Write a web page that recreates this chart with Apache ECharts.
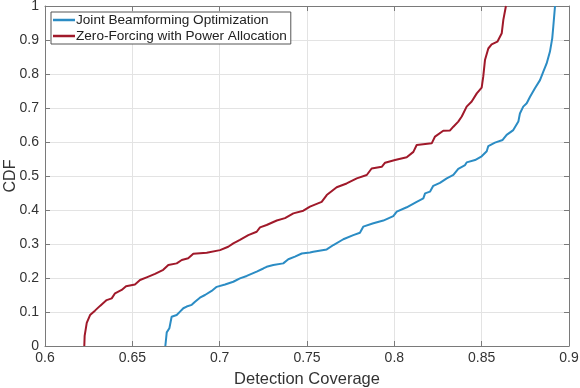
<!DOCTYPE html>
<html><head><meta charset="utf-8">
<script src="https://cdn.jsdelivr.net/npm/echarts@6/dist/echarts.min.js"></script>
<style>html,body{margin:0;padding:0;background:#fff}#c{width:580px;height:388px}</style>
</head><body><div id="c"></div>
<script>
var seriesNames = ['Joint Beamforming Optimization', 'Zero-Forcing with Power Allocation'];
var xTicks = ['0.6','0.65','0.7','0.75','0.8','0.85','0.9'];
var yTicks = ['0','0.1','0.2','0.3','0.4','0.5','0.6','0.7','0.8','0.9','1'];

var jointX = [0.6689,0.6697,0.6712,0.6725,0.6754,0.6773,0.6792,0.6811,0.6840,0.6859,0.6887,0.6916,0.6954,0.6983,0.7031,0.7078,0.7116,0.7155,0.7212,0.7250,0.7269,0.7307,0.7364,0.7393,0.7431,0.7470,0.7517,0.7536,0.7613,0.7651,0.7708,0.7765,0.7803,0.7822,0.7880,0.7937,0.7994,0.8014,0.8071,0.8128,0.8166,0.8176,0.8204,0.8223,0.8261,0.8300,0.8338,0.8366,0.8405,0.8414,0.8462,0.8500,0.8529,0.8538,0.8576,0.8620,0.8643,0.8681,0.8710,0.8719,0.8738,0.8758,0.8777,0.8805,0.8834,0.8853,0.8872,0.8891,0.8904,0.8910,0.8920];
var jointY = [0,0.040,0.052,0.086,0.091,0.101,0.111,0.116,0.121,0.130,0.142,0.150,0.162,0.174,0.181,0.189,0.199,0.206,0.219,0.228,0.233,0.238,0.243,0.255,0.263,0.272,0.275,0.277,0.284,0.297,0.314,0.326,0.333,0.351,0.361,0.369,0.382,0.395,0.408,0.424,0.434,0.449,0.454,0.471,0.480,0.493,0.503,0.521,0.532,0.540,0.547,0.558,0.573,0.588,0.598,0.606,0.621,0.635,0.660,0.684,0.704,0.714,0.733,0.758,0.782,0.807,0.831,0.866,0.905,0.939,1.0];

var zfX = [0.6225,0.6227,0.6239,0.6258,0.6286,0.6315,0.6353,0.6382,0.6401,0.6439,0.6464,0.6515,0.6544,0.6582,0.6630,0.6677,0.6706,0.6754,0.6783,0.6820,0.6849,0.6926,0.7002,0.7049,0.7078,0.7116,0.7164,0.7212,0.7231,0.7269,0.7327,0.7374,0.7422,0.7479,0.7517,0.7584,0.7613,0.7670,0.7727,0.7785,0.7842,0.7870,0.7928,0.7947,0.8004,0.8071,0.8109,0.8128,0.8214,0.8233,0.8280,0.8319,0.8338,0.8366,0.8386,0.8414,0.8443,0.8472,0.8500,0.8509,0.8519,0.8538,0.8557,0.8590,0.8615,0.8624,0.8639];
var zfY = [0,0.030,0.068,0.091,0.104,0.118,0.135,0.140,0.155,0.165,0.176,0.181,0.194,0.202,0.212,0.224,0.238,0.243,0.253,0.258,0.271,0.274,0.282,0.292,0.302,0.312,0.326,0.336,0.349,0.356,0.369,0.376,0.390,0.398,0.410,0.424,0.444,0.467,0.478,0.493,0.503,0.522,0.527,0.539,0.547,0.555,0.571,0.591,0.596,0.616,0.633,0.634,0.645,0.660,0.675,0.704,0.719,0.743,0.760,0.792,0.841,0.875,0.887,0.895,0.920,0.959,1.0];

function pairs(xs, ys){ return xs.map(function(x,i){return [x, ys[i]];}); }

var FONT = '"Liberation Sans", Arial, sans-serif';
var axisGray = '#7a7a7a';
var txt = '#333333';

var chart = echarts.init(document.getElementById('c'), null, {renderer:'canvas'});
chart.setOption({
  animation: false,
  backgroundColor: '#fff',
  grid: {left: 45, right: 11, top: 6, bottom: 42, containLabel: false, outerBoundsMode: 'none'},
  legend: {
    orient: 'vertical', left: 51, top: 12,
    data: seriesNames,
    icon: 'rect', itemWidth: 22, itemHeight: 2.5, itemGap: 2,
    backgroundColor: '#fff', borderColor: '#555', borderWidth: 1,
    padding: [1, 4, 1, 2],
    textStyle: {fontFamily: FONT, fontSize: 13.6, color: '#222', padding: [0,0,0,-4]}
  },
  xAxis: [{
    type: 'value', min: 0.6, max: 0.9, interval: 0.05,
    name: 'Detection Coverage', nameLocation: 'middle', nameGap: 25, nameMoveOverlap: false,
    nameTextStyle: {fontFamily: FONT, fontSize: 16.5, color: txt},
    axisLine: {show: true, onZero: false, lineStyle: {color: axisGray, width: 1}},
    axisTick: {show: true, inside: true, length: 5, lineStyle: {color: axisGray}},
    axisLabel: {fontFamily: FONT, fontSize: 14, color: txt, margin: 5,
      formatter: function(v){ var i = Math.round((v-0.6)/0.05); return xTicks[i] || ''; }},
    splitLine: {show: true, lineStyle: {color: '#e3e3e3', width: 1}}
  },{
    type: 'value', position: 'top', min: 0.6, max: 0.9, interval: 0.05,
    axisLine: {show: true, onZero: false, lineStyle: {color: axisGray, width: 1}},
    axisTick: {show: true, inside: true, length: 5, lineStyle: {color: axisGray}},
    axisLabel: {show: false}, splitLine: {show: false}
  }],
  yAxis: [{
    type: 'value', min: 0, max: 1, interval: 0.1,
    name: 'CDF', nameLocation: 'middle', nameGap: 26, nameMoveOverlap: false,
    nameTextStyle: {fontFamily: FONT, fontSize: 16, color: txt},
    axisLine: {show: true, onZero: false, lineStyle: {color: axisGray, width: 1}},
    axisTick: {show: true, inside: true, length: 5, lineStyle: {color: axisGray}},
    axisLabel: {fontFamily: FONT, fontSize: 14, color: txt, margin: 6,
      formatter: function(v){ var i = Math.round(v*10); return yTicks[i] || ''; }},
    splitLine: {show: true, lineStyle: {color: '#e3e3e3', width: 1}}
  },{
    type: 'value', position: 'right', min: 0, max: 1, interval: 0.1,
    axisLine: {show: true, onZero: false, lineStyle: {color: axisGray, width: 1}},
    axisTick: {show: true, inside: true, length: 5, lineStyle: {color: axisGray}},
    axisLabel: {show: false}, splitLine: {show: false}
  }],
  series: [{
    name: seriesNames[0], type: 'line', xAxisIndex: 0, yAxisIndex: 0,
    data: pairs(jointX, jointY), showSymbol: false, symbol: 'none',
    lineStyle: {color: '#2b8cc4', width: 2}, itemStyle: {color: '#2b8cc4'}
  },{
    name: seriesNames[1], type: 'line', xAxisIndex: 0, yAxisIndex: 0,
    data: pairs(zfX, zfY), showSymbol: false, symbol: 'none',
    lineStyle: {color: '#a0192a', width: 2}, itemStyle: {color: '#a0192a'}
  }]
});
</script>
</body></html>
